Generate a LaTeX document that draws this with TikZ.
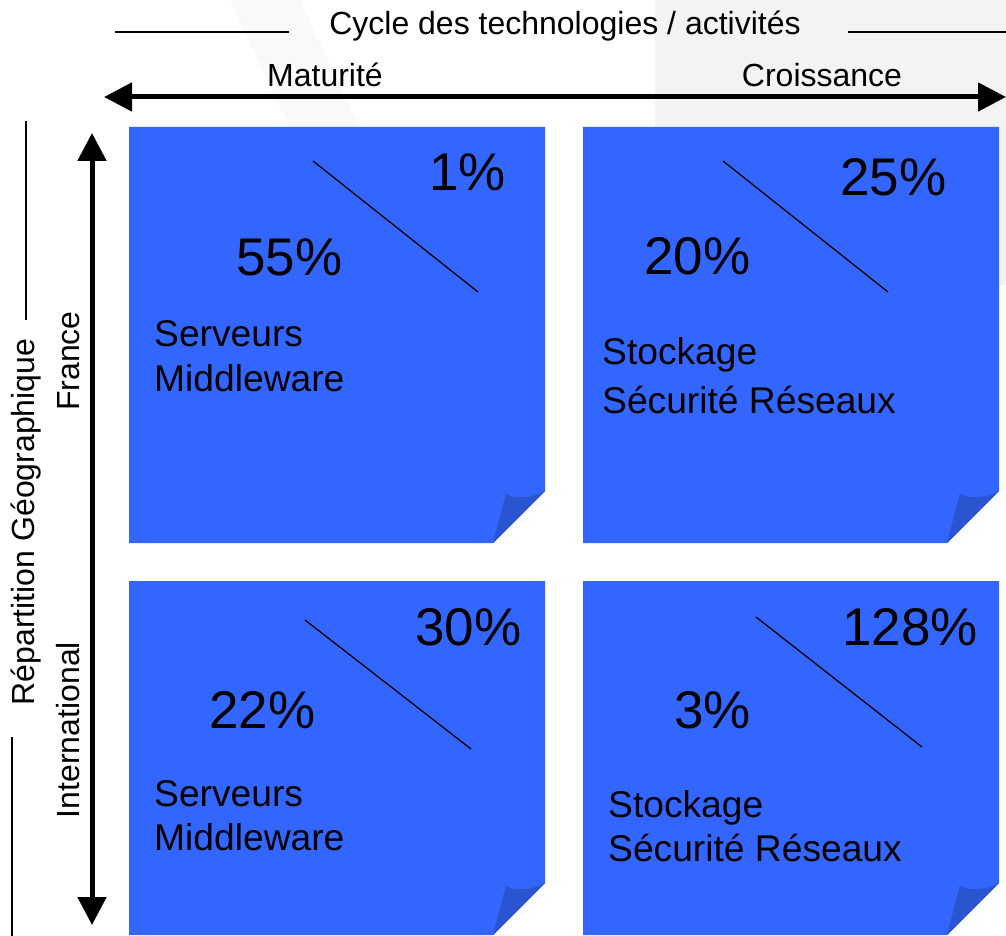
\documentclass[tikz,border=0pt]{standalone}
\usepackage{fontspec}
\setmainfont{Liberation Sans}
\usetikzlibrary{arrows.meta}
\definecolor{noteblue}{HTML}{3366FF}
\definecolor{folddark}{HTML}{2B55D0}
\definecolor{wm}{HTML}{F1F3F5}
\definecolor{wmb}{HTML}{F8F9FA}
\tikzset{
  pct/.style={anchor=base west, inner sep=0pt, font=\fontsize{53}{60}\selectfont},
  lbl/.style={anchor=base west, inner sep=0pt, font=\fontsize{37.2}{44}\selectfont},
  axislbl/.style={inner sep=0pt, font=\fontsize{32}{38}\selectfont},
  axis/.style={line width=5pt, {Triangle[length=28pt,width=28pt]}-{Triangle[length=28pt,width=28pt]}},
  diag/.style={line width=1.3pt},
  thin/.style={line width=1.5pt},
}
\newcommand{\stickynote}[4]{%
  \fill[noteblue] (#1,#2) -- (#3,#2) -- (#3,#4-52) -- (#3-52,#4) -- (#1,#4) -- cycle;
  \fill[folddark] (#3-52,#4) -- (#3-39,#4-50) .. controls (#3-33,#4-44) and (#3-15,#4-44) .. (#3,#4-52) -- cycle;
}
\begin{document}
\begin{tikzpicture}[x=1pt,y=-1pt]
\useasboundingbox (0,0) rectangle (1006,936);
\fill[white] (0,0) rectangle (1006,936);
% faint watermark
\fill[wm] (655,0) rectangle (1006,285);
\fill[wmb] (230,0) -- (300,0) -- (440,300) -- (370,300) -- cycle;
% header
\node[axislbl, anchor=base] (title) at (565,35) {Cycle des technologies / activités};
\coordinate (tl1) at (115,32);
\coordinate (tl2) at (289,32);
\coordinate (tr1) at (848,32);
\coordinate (tr2) at (1006,32);
\draw[thin] (tl1) -- (tl2);
\draw[thin] (tr1) -- (tr2);
\node[axislbl, anchor=base] (mat) at (325,87) {Maturité};
\node[axislbl, anchor=base] (cro) at (822,87) {Croissance};
\coordinate (hL) at (104,97);
\coordinate (hR) at (1006,97);
\draw[axis] (hL) -- (hR);
% left axis
\coordinate (vT) at (92,133);
\coordinate (vB) at (92,925);
\draw[axis] (vT) -- (vB);
\node[axislbl, rotate=90, anchor=base] (rep) at (34,522) {Répartition Géographique};
\node[axislbl, rotate=90, anchor=base] (fr) at (79,361) {France};
\node[axislbl, rotate=90, anchor=base] (intl) at (79,730) {International};
\coordinate (lv1) at (26,121);
\coordinate (lv2) at (26,320);
\coordinate (lv3) at (12,737);
\coordinate (lv4) at (12,936);
\draw[thin] (lv1) -- (lv2);
\draw[thin] (lv3) -- (lv4);
% notes
\stickynote{129}{127}{545}{543}
\stickynote{583}{127}{999}{543}
\stickynote{129}{581}{545}{935}
\stickynote{583}{581}{999}{935}
% TL
\coordinate (d1a) at (313,161); \coordinate (d1b) at (478,292);
\draw[diag] (d1a) -- (d1b);
\node[pct] (p1) at (429,191) {1\%};
\node[pct] (p55) at (236,275) {55\%};
\node[lbl] (s1) at (154,346) {Serveurs};
\node[lbl] (m1) at (154,391) {Middleware};
% TR
\coordinate (d2a) at (723,161); \coordinate (d2b) at (888,292);
\draw[diag] (d2a) -- (d2b);
\node[pct] (p25) at (840,196) {25\%};
\node[pct] (p20) at (644,274) {20\%};
\node[lbl] (st1) at (602,364) {Stockage};
\node[lbl] (sr1) at (602,413) {Sécurité Réseaux};
% BL
\coordinate (d3a) at (305,620); \coordinate (d3b) at (471,749);
\draw[diag] (d3a) -- (d3b);
\node[pct] (p30) at (415,645) {30\%};
\node[pct] (p22) at (209,728) {22\%};
\node[lbl] (s2) at (154,806) {Serveurs};
\node[lbl] (m2) at (154,850) {Middleware};
% BR
\coordinate (d4a) at (756,617); \coordinate (d4b) at (922,747);
\draw[diag] (d4a) -- (d4b);
\node[pct] (p128) at (842,645) {128\%};
\node[pct] (p3) at (674,728) {3\%};
\node[lbl] (st2) at (608,817) {Stockage};
\node[lbl] (sr2) at (608,861) {Sécurité Réseaux};
\end{tikzpicture}
\end{document}
